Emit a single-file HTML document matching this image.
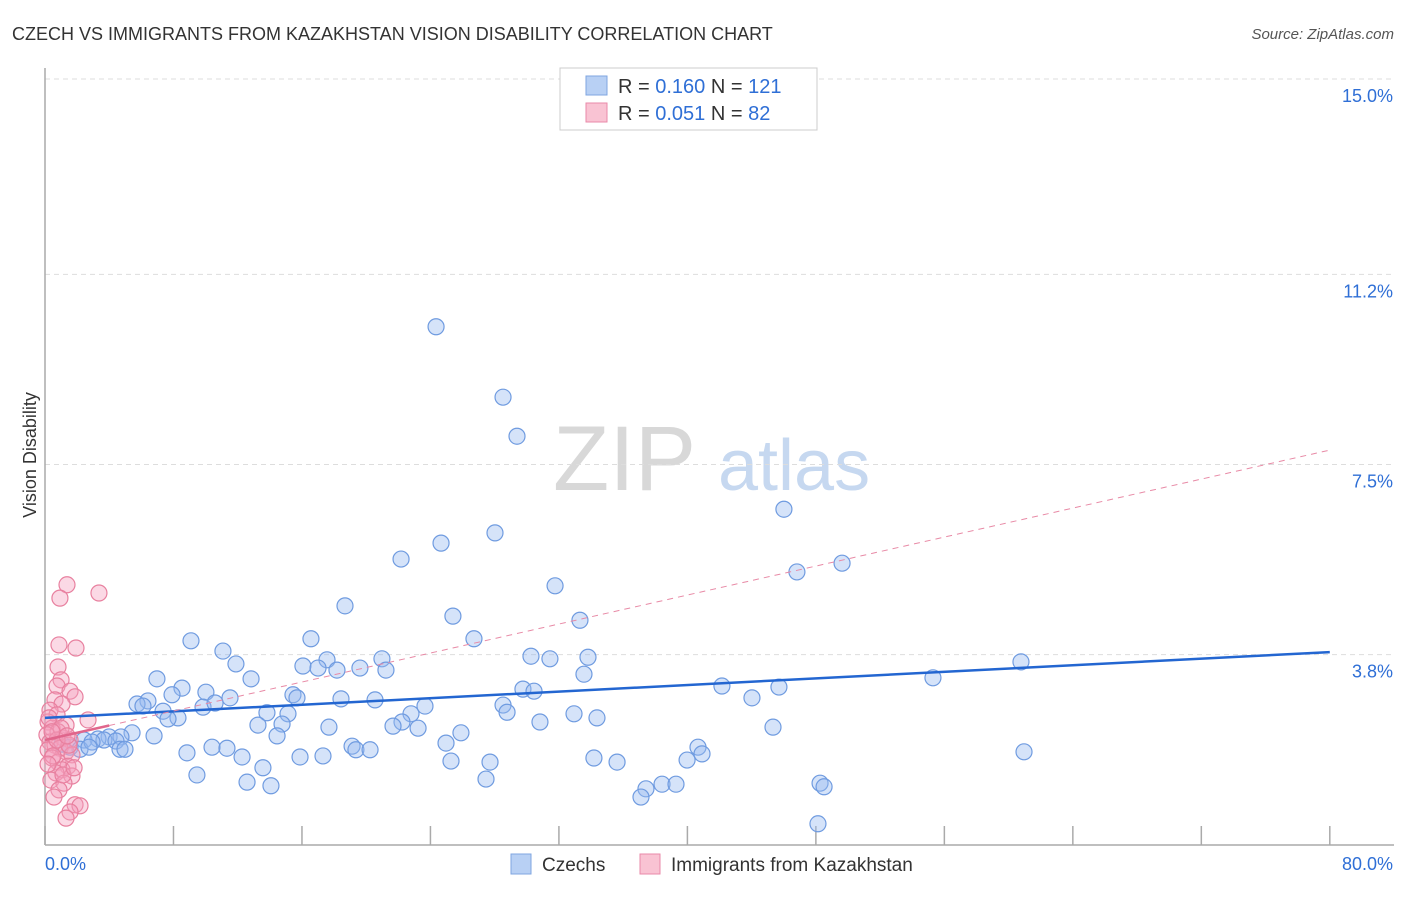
<!DOCTYPE html>
<html><head><meta charset="utf-8"><style>
body{margin:0;background:#fff;font-family:"Liberation Sans",sans-serif;}
svg text{font-family:"Liberation Sans",sans-serif;}
</style></head><body>
<svg width="1406" height="892" xmlns="http://www.w3.org/2000/svg" id="chart">
<text x="12" y="40" font-size="18" fill="#333">CZECH VS IMMIGRANTS FROM KAZAKHSTAN VISION DISABILITY CORRELATION CHART</text>
<text x="1394" y="39" font-size="15" fill="#555" font-style="italic" text-anchor="end">Source: ZipAtlas.com</text>
<text x="36" y="455" font-size="18" fill="#333" transform="rotate(-90 36 455)" text-anchor="middle">Vision Disability</text>
<g><text x="553" y="490" font-size="92" fill="#d8d8d8" font-family="Liberation Serif,serif">ZIP</text><text x="718" y="490" font-size="72" fill="#c6d8f0">atlas</text></g>
<g id="grid"></g>
<g id="axes"></g>
<g id="pts"></g>
<g id="trends"></g>
<g>
<rect x="560" y="68" width="257" height="62" fill="#fff" stroke="#ccc"/>
<rect x="586" y="76" width="21" height="19" fill="#b8d0f4" stroke="#7fa6e0"/>
<rect x="586" y="103" width="21" height="19" fill="#f9c3d3" stroke="#e98aa8"/>
<text x="618" y="93" font-size="20" fill="#333">R = <tspan fill="#2f6fd6">0.160</tspan>   N = <tspan fill="#2f6fd6">121</tspan></text>
<text x="618" y="120" font-size="20" fill="#333">R = <tspan fill="#2f6fd6">0.051</tspan>   N =  <tspan fill="#2f6fd6">82</tspan></text>
</g>
<g>
<rect x="511" y="854" width="20" height="20" fill="#b8d0f4" stroke="#7fa6e0"/>
<text x="542" y="871" font-size="19" fill="#333">Czechs</text>
<rect x="640" y="854" width="20" height="20" fill="#f9c3d3" stroke="#e98aa8"/>
<text x="671" y="871" font-size="19" fill="#333">Immigrants from Kazakhstan</text>
</g>
</svg>
<script>
const yTicks=[3.8,7.5,11.2,15.0];
const yTickLabels=["3.8%","7.5%","11.2%","15.0%"];
const xTicks=[0,8,16,24,32,40,48,56,64,72,80];
const xEndLabels=["0.0%","80.0%"];
const czechX=[24.35,28.52,29.39,46.01,28.02,24.66,22.17,49.63,46.82,31.76,18.68,25.40,33.31,26.71,16.56,9.09,11.08,30.26,33.81,20.98,31.44,60.77,11.89,16.06,17.56,17.00,19.61,18.18,21.23,6.97,12.83,33.56,55.29,8.53,29.76,30.45,42.15,45.70,10.02,7.91,15.44,11.52,15.69,6.41,18.43,20.55,44.02,5.73,6.10,9.84,10.59,23.66,28.52,7.35,13.82,15.13,28.77,8.28,7.66,22.79,32.94,34.37,22.23,13.26,21.67,14.76,17.68,23.23,30.82,45.33,5.42,6.79,25.90,3.99,4.73,3.30,3.67,4.42,14.45,2.43,1.06,1.56,2.18,2.93,4.67,4.98,8.84,10.40,11.33,19.12,19.36,20.24,24.97,40.66,60.96,12.27,15.88,17.31,27.71,25.28,34.18,35.62,39.98,40.91,13.57,9.46,27.46,38.42,39.29,37.42,12.58,14.07,48.26,48.51,37.11,48.13,2.74];
const czechY=[10.18,8.81,8.05,6.63,6.17,5.97,5.66,5.58,5.41,5.14,4.75,4.55,4.47,4.11,4.11,4.07,3.87,3.77,3.75,3.72,3.72,3.66,3.62,3.58,3.70,3.54,3.54,3.50,3.50,3.33,3.33,3.42,3.35,3.15,3.13,3.09,3.19,3.17,3.07,3.02,3.02,2.96,2.96,2.90,2.94,2.92,2.96,2.84,2.80,2.78,2.86,2.80,2.82,2.70,2.67,2.65,2.68,2.57,2.55,2.65,2.65,2.57,2.49,2.43,2.41,2.45,2.39,2.37,2.49,2.39,2.28,2.22,2.28,2.20,2.20,2.16,2.14,2.12,2.22,2.14,2.06,2.00,1.96,2.10,1.96,1.96,1.89,2.00,1.98,2.02,1.95,1.95,2.08,2.00,1.91,1.81,1.81,1.83,1.71,1.73,1.79,1.71,1.75,1.87,1.60,1.46,1.38,1.28,1.28,1.19,1.32,1.25,1.30,1.23,1.03,0.51,2.00];
const kazX=[1.37,0.93,3.36,0.87,1.93,0.81,1.00,0.75,1.56,1.87,0.62,1.06,0.31,0.75,2.68,0.19,1.31,0.44,0.81,0.12,1.12,1.56,0.31,0.62,0.93,0.19,1.31,1.68,0.44,0.81,1.43,1.06,0.68,1.68,0.37,1.18,0.87,1.87,2.18,1.56,1.31,0.56,0.25,0.50,1.49,1.00,0.75,0.19,1.12,1.81,0.44,1.37];
const kazY=[5.16,4.90,5.00,3.99,3.93,3.56,3.31,3.19,3.09,2.98,2.92,2.84,2.72,2.63,2.53,2.49,2.43,2.37,2.30,2.24,2.18,2.14,2.10,2.04,1.98,1.95,1.91,1.85,1.79,1.71,1.63,1.56,1.50,1.44,1.36,1.30,1.17,0.88,0.86,0.74,0.62,1.03,2.57,1.83,2.04,2.37,2.14,1.67,1.46,1.60,2.30,2.22];
const czechTrend=[2.57,3.85];
const kazTrend=[2.14,7.78];

const NS="http://www.w3.org/2000/svg";
const xs=v=>45+v*16.06;
const ys=v=>850-v*51.4;
function mk(tag,attrs,parent){const e=document.createElementNS(NS,tag);for(const k in attrs)e.setAttribute(k,attrs[k]);parent.appendChild(e);return e;}
const grid=document.getElementById('grid'),axes=document.getElementById('axes'),pts=document.getElementById('pts'),tr=document.getElementById('trends');
yTicks.forEach((t,i)=>{
  const l=mk('line',{x1:45,x2:1394,y1:ys(t),y2:ys(t),stroke:'#ddd','stroke-dasharray':'5,4'},grid);
  
  
  const tx=mk('text',{x:1393,y:ys(t)+23,'font-size':18,fill:'#2f6fd6','text-anchor':'end'},grid);
  tx.textContent=yTickLabels[i];
  
  
});
mk('line',{x1:45,x2:45,y1:68,y2:845,stroke:'#aaa','stroke-width':1.5},axes);
mk('line',{x1:45,x2:1394,y1:845,y2:845,stroke:'#aaa','stroke-width':1.5},axes);
xTicks.forEach(t=>{
  const l=mk('line',{x1:xs(t),x2:xs(t),y1:826,y2:845,stroke:'#aaa','stroke-width':1.5},axes);
  
  
});
const xl0=mk('text',{x:45,y:870,'font-size':18,fill:'#2f6fd6'},axes);xl0.textContent=xEndLabels[0];


const xl1=mk('text',{x:1393,y:870,'font-size':18,fill:'#2f6fd6','text-anchor':'end'},axes);xl1.textContent=xEndLabels[1];


czechX.forEach((x,i)=>{
  const c=mk('circle',{cx:xs(x),cy:ys(czechY[i]),r:8,fill:'rgba(150,185,240,0.4)',stroke:'#6f9be0','stroke-width':1.2},pts);
  
  
});
kazX.forEach((x,i)=>{
  const c=mk('circle',{cx:xs(x),cy:ys(kazY[i]),r:8,fill:'rgba(245,160,190,0.4)',stroke:'#e8809f','stroke-width':1.2},pts);
  
  
});
const bl=mk('line',{x1:xs(0),y1:ys(czechTrend[0]),x2:xs(80),y2:ys(czechTrend[1]),stroke:'#2366d1','stroke-width':2.5},tr);


const kslope=(kazTrend[1]-kazTrend[0])/80;
const ps=mk('line',{x1:xs(0),y1:ys(kazTrend[0]),x2:xs(4),y2:ys(kazTrend[0]+4*kslope),stroke:'#e0668c','stroke-width':2.5},tr);


const pl=mk('line',{x1:xs(4),y1:ys(kazTrend[0]+4*kslope),x2:xs(80),y2:ys(kazTrend[1]),stroke:'#e88aa6','stroke-width':1,'stroke-dasharray':'6,5'},tr);


</script>
</body></html>
